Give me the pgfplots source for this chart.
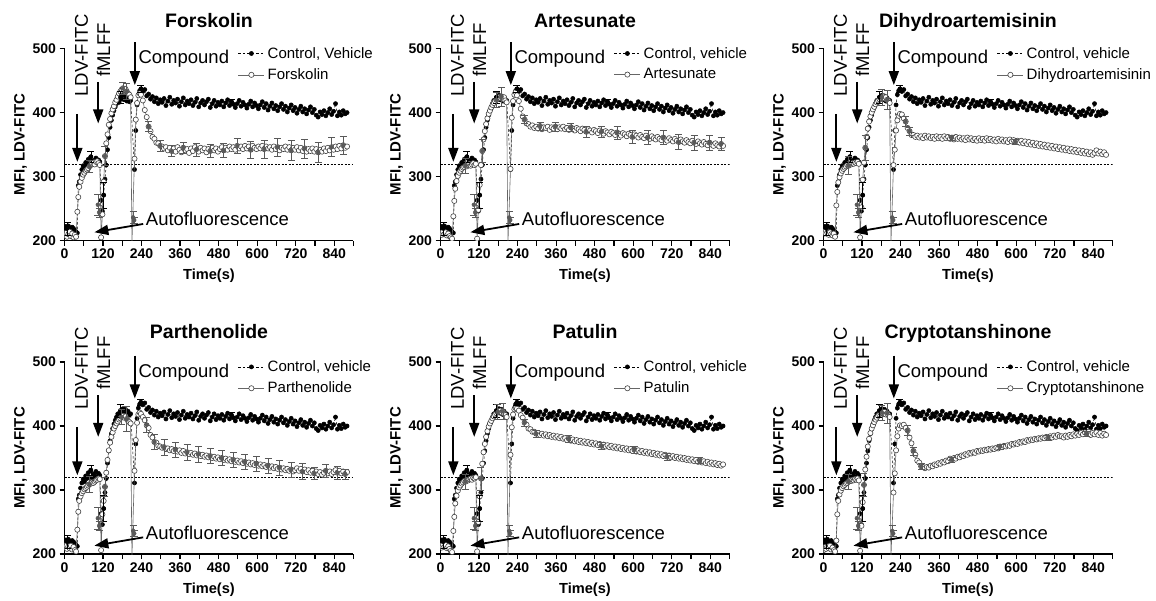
\documentclass[border=0pt]{standalone}
\usepackage{fontspec}
\setmainfont{Liberation Sans}
\usepackage{pgfplots}
\usepackage{pgfplotstable}
\pgfplotsset{compat=1.18}
\usetikzlibrary{arrows.meta}

\pgfplotstableread{
t C F A D P T Y
0 218 208 212 214 210 213 206
4 222 212 209 211 214 210 211
8 219 206 214 216 208 215 208
12 223 210 210 212 212 211 212
16 220 214 213 209 209 214 209
20 217 207 208 213 213 209 213
24 221 211 211 210 207 212 207
28 219 205 207 208 211 208 210
32 216 209 205 211 206 205 206
36 214 206 203 206 204 203 204
40 212 245 238 255 238 236 221
43 286 268 262 276 266 258 262
46 292 284 281 291 283 279 283
50 303 292 293 299 290 291 293
54 311 298 301 305 295 299 299
58 317 303 306 309 298 304 303
62 313 306 309 312 301 307 306
66 322 309 312 314 303 310 308
70 318 311 314 316 305 312 310
74 327 313 315 318 307 314 311
78 320 316 317 317 309 313 313
82 331 318 316 320 310 316 315
86 319 320 318 319 312 315 314
90 325 322 320 321 311 317 316
94 322 319 317 320 313 318 315
98 329 323 319 322 315 316 317
102 321 324 321 321 316 319 316
106 326 321 318 323 318 318 318
110 323 318 320 320 317 320 315
114 263 205 203 205 206 204 205
118 246 241 248 252 262 250 244
122 271 292 287 295 283 290 281
126 296 332 318 322 305 318 308
130 318 352 340 345 327 341 332
134 342 366 358 362 347 359 352
138 361 381 371 375 362 372 368
142 377 390 382 386 374 383 380
146 388 399 391 394 383 392 389
150 396 405 398 400 390 399 396
154 403 410 403 405 396 404 401
158 409 416 408 409 400 408 406
162 414 420 412 413 404 412 410
166 419 425 415 416 407 415 413
170 416 430 418 419 410 418 416
174 424 433 420 421 412 420 418
178 421 436 422 423 414 422 420
182 427 438 424 424 416 423 421
186 420 435 423 425 413 424 419
190 426 437 425 422 415 421 422
194 418 433 421 424 411 423 418
198 423 430 424 420 408 419 420
202 417 428 419 418 406 417 417
206 419 424 416 415 404 414 414
210 nan 195 195 195 195 195 195
218 311 328 312 318 330 355 296
222 372 389 392 342 378 398 326
226 412 415 418 372 405 418 362
230 428 427 428 388 418 426 384
234 434 430 432 395 421 428 396
238 437 428 427 398 419 427 401
244 433 419 418 397 414 424 400
250 436 404 406 391 409 417 402
256 426 393 394 386 401 413 397
262 429 378 389 376 397 405 393
268 421 371 383 371 386 402 382
274 425 362 382 365 382 396 373
280 417 359 378 365 375 395 361
286 423 353 380 362 374 391 355
292 414 352 376 364 369 391 346
298 420 348 378 361 368 388 343
304 416 347 375 363 366 389 337
310 422 344 379 360 367 386 336
316 411 346 374 364 364 388 334
322 418 341 377 361 365 385 336
328 424 345 376 363 362 387 335
334 413 340 378 360 364 384 338
340 419 344 373 362 361 386 337
346 415 339 377 359 363 383 340
352 421 346 375 363 360 385 339
358 410 342 378 360 362 382 342
364 417 338 374 362 358 384 341
370 423 345 377 359 361 381 344
376 412 341 375 363 357 383 343
382 418 343 378 360 359 380 346
388 414 337 374 362 356 381 345
394 420 344 376 359 358 378 349
400 411 340 373 361 355 380 347
406 416 346 377 358 357 377 350
412 422 342 375 362 354 379 349
418 409 339 372 359 356 376 352
424 415 345 376 361 353 378 351
430 419 341 374 358 355 375 354
436 412 344 371 360 352 377 353
442 417 338 375 357 354 374 356
448 421 343 373 361 351 376 355
454 408 340 370 358 353 373 358
460 414 345 374 360 350 375 357
466 419 341 372 357 352 372 359
472 410 344 369 359 349 374 358
478 416 339 373 356 351 371 361
484 412 343 371 360 348 373 360
490 418 346 368 357 350 370 362
496 409 341 372 359 347 372 361
502 415 345 370 356 349 369 363
508 420 342 367 360 346 371 362
514 411 347 371 357 348 368 364
520 417 343 369 359 345 370 363
526 413 346 366 356 347 367 365
532 408 342 370 358 344 369 364
538 414 348 368 355 346 366 366
544 419 344 365 359 343 368 365
550 410 347 369 356 345 365 368
556 416 343 367 358 342 367 367
562 412 348 364 355 344 364 369
568 407 344 368 357 341 366 368
574 413 347 366 354 343 363 370
580 418 342 363 358 340 365 369
586 409 348 367 355 342 362 372
592 415 345 365 357 339 364 371
598 411 343 362 354 341 361 373
604 406 347 366 356 338 363 372
610 412 344 364 353 340 360 375
616 417 348 361 356 337 362 374
622 408 343 365 352 339 359 376
628 414 347 362 355 336 361 375
634 404 344 360 351 338 358 378
640 410 346 364 354 335 360 377
646 415 342 361 350 337 357 379
652 406 347 359 353 334 359 378
658 411 343 363 349 336 356 380
664 403 346 360 352 333 358 379
670 409 341 358 348 335 355 381
676 414 345 362 351 332 357 380
682 405 343 359 347 334 354 382
688 410 347 357 350 331 356 381
694 401 342 361 346 333 353 383
700 407 346 358 349 330 355 382
706 412 341 356 345 332 352 384
712 403 345 360 348 329 354 382
718 408 342 357 344 331 351 385
724 399 346 355 347 334 353 383
730 405 341 359 343 330 350 386
736 410 345 356 346 333 352 384
742 401 340 354 342 329 349 384
748 406 344 358 345 332 351 382
754 398 339 355 341 328 348 385
760 404 343 353 344 331 350 383
766 409 340 357 340 327 347 386
772 400 344 354 343 330 349 384
778 405 339 352 339 326 346 387
784 396 343 356 342 329 348 385
790 393 338 353 338 325 345 388
796 401 342 351 341 328 347 386
802 397 339 355 337 324 344 389
808 403 344 352 340 327 346 387
814 395 340 350 336 330 343 390
820 400 345 354 339 326 345 388
826 406 341 351 335 329 342 391
832 397 346 349 338 325 344 386
838 402 342 353 334 328 341 389
844 414 347 350 337 331 343 387
850 395 343 348 341 327 340 390
856 401 348 352 336 330 342 386
862 396 344 349 339 326 339 389
868 403 349 347 335 329 341 385
874 398 345 351 338 325 338 388
880 400 347 348 334 328 340 386
}\data

\pgfplotstableread{
t y e
8 219 10
82 331 8
122 271 20
174 424 10
238 437 5
520 417 4
}\errC

\pgfplotstableread{
t y e
104 256 17
108 244 7
214 236 9
217 232 5
}\errAF

\pgfplotstableread{
t y e
78 316 10
126 332 15
182 438 10
194 433 12
262 378 8
298 348 8
334 340 9
370 345 8
412 342 10
454 340 10
496 341 11
538 348 12
580 342 13
622 343 14
664 346 14
706 341 15
748 344 15
790 338 15
832 346 15
868 349 14
}\errF

\pgfplotstableread{
t y e
78 317 12
130 340 18
174 420 12
190 425 15
262 389 6
310 379 6
358 378 7
406 377 7
454 370 8
502 370 9
550 369 10
598 362 10
646 361 11
694 361 11
742 354 12
790 353 12
838 353 12
874 351 10
}\errA

\pgfplotstableread{
t y e
78 317 14
130 345 20
182 424 12
198 420 15
256 386 8
268 371 6
400 361 4
598 354 4
}\errD

\pgfplotstableread{
t y e
78 309 12
126 305 15
178 414 12
194 411 20
256 402 12
280 375 12
310 367 12
346 363 12
382 359 12
418 356 12
454 353 12
490 350 12
526 347 12
562 344 12
598 341 12
634 338 12
670 335 12
706 332 12
742 329 12
778 326 10
814 330 10
850 327 10
874 325 8
}\errP

\pgfplotstableread{
t y e
78 313 12
126 318 18
178 422 12
194 423 12
262 405 6
298 388 6
400 380 5
502 369 5
604 363 5
706 352 5
808 346 5
}\errT

\pgfplotstableread{
t y e
78 313 12
126 308 18
182 421 12
198 420 15
262 393 8
280 361 6
304 337 5
400 347 4
550 368 4
700 382 4
820 388 4
}\errY

\newcommand{\anfont}{\fontsize{18.5}{19}\selectfont}

\pgfplotsset{
  legend image code/.code={\draw[mark repeat=2,mark phase=2,#1] plot coordinates {(0pt,0pt) (13pt,0pt) (26pt,0pt)};},
  panel/.style={
    scale only axis, width=289pt, height=192pt,
    xmin=0, xmax=900, ymin=200, ymax=500,
    axis x line*=bottom, axis y line*=left,
    axis line style={line width=1.3pt},
    xtick={0,120,...,840}, minor xtick={60,180,...,900},
    ytick={200,300,400,500},
    tick align=outside, major tick length=5pt, minor tick length=5pt,
    tick style={line width=1.2pt, black},
    /pgf/number format/assume math mode=true,
    tick label style={font=\fontsize{14}{14}\selectfont\bfseries},
    xlabel={Time(s)}, ylabel={MFI, LDV-FITC},
    every axis x label/.style={at={(axis description cs:0.5,-0.205)}, anchor=base, font=\fontsize{14.6}{15}\selectfont\bfseries},
    every axis y label/.style={at={(axis description cs:-0.152,0.5)}, rotate=90, anchor=center, font=\fontsize{15}{15}\selectfont\bfseries},
    every axis title/.style={at={(axis description cs:0.5,1)}, anchor=base, font=\fontsize{19.5}{20}\selectfont\bfseries},
    clip mode=individual,
    legend style={draw=none, fill=none, at={(axis description cs:0.600,1.013)}, anchor=north west, font=\fontsize{15}{15}\selectfont, inner sep=0pt, row sep=7pt, nodes={inner sep=1pt}, /tikz/every odd column/.append style={column sep=2pt}},
    legend cell align=left,
  },
  ctrl/.style={black, line width=0.5pt, dash pattern=on 2.5pt off 2pt, mark=*, mark size=2.1pt, mark options={solid, fill=black, draw=black}, clip marker paths=true},
  cmp/.style={black!60, line width=0.6pt, mark=*, mark size=2.6pt, mark options={solid, fill=white, draw=black!75, line width=0.6pt}, clip marker paths=true},
  errg/.style={black!65, only marks, mark=none, forget plot, error bars/.cd, y dir=both, y explicit, error bar style={black!65, line width=0.6pt}, error mark options={black!65, rotate=90, mark size=3.5pt, line width=0.6pt}},
  errk/.style={black, only marks, mark=none, forget plot, error bars/.cd, y dir=both, y explicit, error bar style={black, line width=0.6pt}, error mark options={black, rotate=90, mark size=3.5pt, line width=0.6pt}},
}
\tikzset{bigarrow/.style={line width=1.8pt, -{Triangle[width=10pt,length=14pt]}}}

\newcommand{\annot}{%
  \draw[bigarrow] (axis cs:40,398) -- (axis cs:40,323);
  \node[rotate=90, anchor=west, inner sep=0pt, font=\anfont] at (axis cs:53,425) {LDV-FITC};
  \draw[bigarrow] (axis cs:105,448) -- (axis cs:105,383);
  \node[rotate=90, anchor=west, inner sep=0pt, font=\anfont] at (axis cs:121,456) {fMLFF};
  \draw[bigarrow] (axis cs:219,510) -- (axis cs:219,443);
  \node[anchor=base west, inner sep=0pt, font=\anfont] at (axis cs:230,476) {Compound};
  \node[anchor=base west, inner sep=0pt, font=\anfont] at (axis cs:253,223) {Autofluorescence};
  \draw[bigarrow] (axis cs:245,226) -- (axis cs:93,213);
}

\newcommand{\panel}[7]{%
\begin{axis}[panel, at={(#1pt,#2pt)}, anchor=south west, title={#3}, title style={yshift=#4pt}]
\addplot[black, line width=0.5pt, dash pattern=on 2pt off 1.5pt, forget plot] coordinates {(0,320) (900,320)};
\addplot[ctrl] table[x=t,y=C]{\data};
\addlegendentry{#7}
\addplot[cmp] table[x=t,y=#5]{\data};
\addlegendentry{#3}
\addplot[errk] table[x=t,y=y,y error=e]{\errC};
\addplot[errg] table[x=t,y=y,y error=e]{#6};
\addplot[errg] table[x=t,y=y,y error=e]{\errAF};
\annot
\end{axis}}

\begin{document}
\begin{tikzpicture}
\path[use as bounding box] (0,0) rectangle (1156pt,600pt);
\panel{64.5}{359.4}{Forskolin}{21}{F}{\errF}{Control, Vehicle}
\panel{440.5}{359.4}{Artesunate}{21}{A}{\errA}{Control, vehicle}
\panel{823.5}{359.4}{Dihydroartemisinin}{21}{D}{\errD}{Control, vehicle}
\panel{64.5}{46}{Parthenolide}{23}{P}{\errP}{Control, vehicle}
\panel{440.5}{46}{Patulin}{23}{T}{\errT}{Control, vehicle}
\panel{823.5}{46}{Cryptotanshinone}{23}{Y}{\errY}{Control, vehicle}
\end{tikzpicture}
\end{document}
